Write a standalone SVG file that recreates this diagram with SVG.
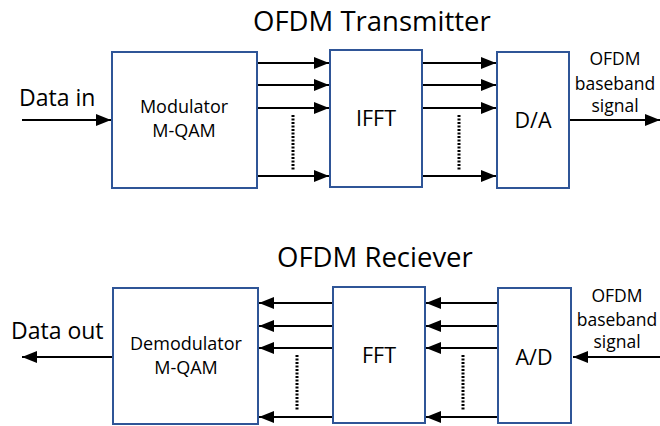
<svg xmlns="http://www.w3.org/2000/svg" width="660" height="426" viewBox="0 0 660 426">
<defs>
<style>
.box{fill:#fff;stroke:#2f5597;stroke-width:2}
.ln{stroke:#000;stroke-width:2;fill:none}
.dot{stroke:#000;stroke-width:3;stroke-dasharray:2 1.5;fill:none}
text{font-family:"Open Sans","Noto Sans",sans-serif;fill:#000}
.title{font-size:27.5px}
.lbl{font-size:23px}
.blk{font-size:18px;text-anchor:middle}
.big{font-size:21.5px;text-anchor:middle}
.sig{font-size:17.5px;text-anchor:middle}
</style>
<marker id="ah" viewBox="0 0 15 12" refX="15" refY="6" markerWidth="15" markerHeight="12" markerUnits="userSpaceOnUse" orient="auto">
<path d="M0,0 L15,6 L0,12 Z" fill="#000"/>
</marker>
</defs>
<text class="title" x="253" y="31">OFDM Transmitter</text>
<text class="title" x="277" y="267">OFDM Reciever</text>
<g id="connectors">
<line class="ln" x1="22" y1="120" x2="111" y2="120" marker-end="url(#ah)"/>
<line class="ln" x1="257" y1="63" x2="329" y2="63" marker-end="url(#ah)"/>
<line class="ln" x1="257" y1="85" x2="329" y2="85" marker-end="url(#ah)"/>
<line class="ln" x1="257" y1="108" x2="329" y2="108" marker-end="url(#ah)"/>
<line class="ln" x1="257" y1="176" x2="329" y2="176" marker-end="url(#ah)"/>
<line class="dot" x1="293" y1="115" x2="293" y2="170"/>
<line class="ln" x1="422" y1="63" x2="496" y2="63" marker-end="url(#ah)"/>
<line class="ln" x1="422" y1="85" x2="496" y2="85" marker-end="url(#ah)"/>
<line class="ln" x1="422" y1="108" x2="496" y2="108" marker-end="url(#ah)"/>
<line class="ln" x1="422" y1="176" x2="496" y2="176" marker-end="url(#ah)"/>
<line class="dot" x1="459" y1="115" x2="459" y2="170"/>
<line class="ln" x1="569" y1="120" x2="660" y2="120" marker-end="url(#ah)"/>
<line class="ln" x1="113" y1="357" x2="22" y2="357" marker-end="url(#ah)"/>
<line class="ln" x1="333" y1="303" x2="259" y2="303" marker-end="url(#ah)"/>
<line class="ln" x1="333" y1="326" x2="259" y2="326" marker-end="url(#ah)"/>
<line class="ln" x1="333" y1="348" x2="259" y2="348" marker-end="url(#ah)"/>
<line class="ln" x1="333" y1="417" x2="259" y2="417" marker-end="url(#ah)"/>
<line class="dot" x1="297" y1="355" x2="297" y2="410"/>
<line class="ln" x1="498" y1="303" x2="426" y2="303" marker-end="url(#ah)"/>
<line class="ln" x1="498" y1="326" x2="426" y2="326" marker-end="url(#ah)"/>
<line class="ln" x1="498" y1="348" x2="426" y2="348" marker-end="url(#ah)"/>
<line class="ln" x1="498" y1="417" x2="426" y2="417" marker-end="url(#ah)"/>
<line class="dot" x1="463" y1="355" x2="463" y2="410"/>
<line class="ln" x1="660" y1="357" x2="573" y2="357" marker-end="url(#ah)"/>
</g>
<text class="lbl" x="19" y="106">Data in</text>
<text class="lbl" x="11" y="339">Data out</text>
<g id="sig-tx">
<text class="sig" x="615" y="65">OFDM</text>
<text class="sig" x="615" y="90">baseband</text>
<text class="sig" x="615" y="112">signal</text>
</g>
<g id="sig-rx">
<text class="sig" x="617" y="302">OFDM</text>
<text class="sig" x="617" y="326">baseband</text>
<text class="sig" x="617" y="348">signal</text>
</g>
<g id="modulator">
<rect class="box" x="112" y="52" width="145" height="136"/>
<text class="blk" x="184" y="113">Modulator</text>
<text class="blk" x="184" y="137">M-QAM</text>
</g>
<g id="ifft">
<rect class="box" x="330" y="50" width="92" height="137"/>
<text class="big" x="376" y="126">IFFT</text>
</g>
<g id="da">
<rect class="box" x="497" y="52" width="72" height="136"/>
<text class="big" x="533" y="128">D/A</text>
</g>
<g id="demodulator">
<rect class="box" x="113" y="288" width="145" height="136"/>
<text class="blk" x="186" y="350">Demodulator</text>
<text class="blk" x="186" y="374">M-QAM</text>
</g>
<g id="fft">
<rect class="box" x="333" y="287" width="92" height="136"/>
<text class="big" x="379" y="363">FFT</text>
</g>
<g id="ad">
<rect class="box" x="498" y="288" width="73" height="135"/>
<text class="big" x="534" y="365">A/D</text>
</g>
</svg>
